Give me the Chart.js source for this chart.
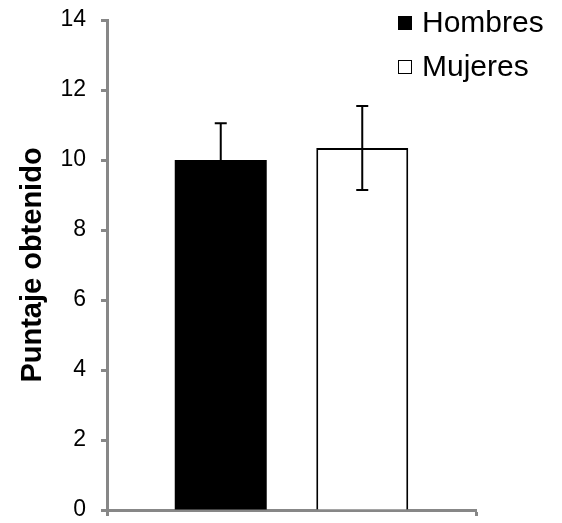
<!DOCTYPE html>
<html>
<head>
<meta charset="utf-8">
<script src="https://cdn.jsdelivr.net/npm/chart.js@4.4.1/dist/chart.umd.min.js"></script>
<style>
  html, body { margin: 0; padding: 0; background: #fff; }
  #wrap { width: 562px; height: 523px; }
</style>
</head>
<body>
<div id="wrap"><canvas id="grafico" width="562" height="523"></canvas></div>
<script>
// Datos del gráfico
const categorias = [''];
const series = ['Hombres', 'Mujeres'];
const puntajes = [10.0, 10.34];
const errores = [1.05, 1.2];
const ticksY = [0, 2, 4, 6, 8, 10, 12, 14];

const grisEje = '#878787';
const fuente = '"Liberation Sans", Arial, sans-serif';

// Barras de error dibujadas sobre cada barra
const errorBarsPlugin = {
    id: 'errorBars',
    afterDatasetsDraw(chart) {
        const ctx = chart.ctx;
        const y = chart.scales.y;
        chart.data.datasets.forEach((ds, i) => {
            const meta = chart.getDatasetMeta(i);
            meta.data.forEach((bar, j) => {
                const v = ds.data[j];
                const e = errores[i];
                const yTop = y.getPixelForValue(v + e);
                const yBot = y.getPixelForValue(v - e);
                ctx.save();
                ctx.strokeStyle = '#000';
                ctx.lineWidth = 2;
                ctx.beginPath();
                ctx.moveTo(bar.x, yTop);
                ctx.lineTo(bar.x, yBot);
                ctx.moveTo(bar.x - 6, yTop);
                ctx.lineTo(bar.x + 6, yTop);
                ctx.moveTo(bar.x - 6, yBot);
                ctx.lineTo(bar.x + 6, yBot);
                ctx.stroke();
                ctx.restore();
            });
        });
    }
};

// Leyenda dentro del área (como en Excel)
const leyendaPlugin = {
    id: 'leyenda',
    afterDraw(chart) {
        const ctx = chart.ctx;
        ctx.save();
        ctx.font = '30px ' + fuente;
        ctx.textBaseline = 'middle';
        chart.data.datasets.forEach((ds, i) => {
            const cy = 23 + i * 44;
            const x0 = 398;
            ctx.fillStyle = ds.backgroundColor;
            ctx.fillRect(x0, cy - 7, 14, 14);
            ctx.strokeStyle = '#000';
            ctx.lineWidth = 1;
            ctx.strokeRect(x0 + 0.5, cy - 6.5, 13, 13);
            ctx.fillStyle = '#000';
            ctx.fillText(ds.label, x0 + 24, cy + 1);
        });
        ctx.restore();
    }
};

const ctx = document.getElementById('grafico').getContext('2d');
new Chart(ctx, {
    type: 'bar',
    data: {
        labels: categorias,
        datasets: [
            {
                label: series[0],
                data: [puntajes[0]],
                backgroundColor: '#000000',
                borderColor: '#000000',
                borderWidth: 0
            },
            {
                label: series[1],
                data: [puntajes[1]],
                backgroundColor: '#ffffff',
                borderColor: '#000000',
                borderWidth: 2
            }
        ]
    },
    options: {
        responsive: false,
        animation: false,
        categoryPercentage: 0.767,
        barPercentage: 0.65,
        layout: { padding: { top: 20, right: 86, bottom: 0, left: 0 } },
        plugins: {
            legend: { display: false },
            tooltip: { enabled: false }
        },
        scales: {
            x: {
                grid: {
                    offset: true,
                    drawOnChartArea: false,
                    drawTicks: true,
                    tickLength: 6,
                    tickWidth: 3,
                    color: grisEje
                },
                border: { color: grisEje, width: 3 },
                ticks: { display: false },
                afterFit(scale) { scale.height = 13; }
            },
            y: {
                min: 0,
                max: 14,
                afterBuildTicks(scale) {
                    scale.ticks = ticksY.map(v => ({ value: v }));
                },
                grid: {
                    drawOnChartArea: false,
                    drawTicks: true,
                    tickLength: 6,
                    tickWidth: 3,
                    color: grisEje
                },
                border: { color: grisEje, width: 3 },
                ticks: {
                    color: '#000',
                    padding: 15,
                    font: { family: fuente, size: 23 }
                },
                title: {
                    display: true,
                    text: 'Puntaje obtenido',
                    color: '#000',
                    padding: { top: 16, bottom: 0 },
                    font: { family: fuente, size: 29, weight: 'bold' }
                },
                afterFit(scale) {
                    scale.width = 107;
                    // el padding de las etiquetas no debe empujar el área del gráfico
                    scale.paddingTop = 10;
                    scale.paddingBottom = 10;
                }
            }
        }
    },
    plugins: [errorBarsPlugin, leyendaPlugin]
});
</script>
</body>
</html>
